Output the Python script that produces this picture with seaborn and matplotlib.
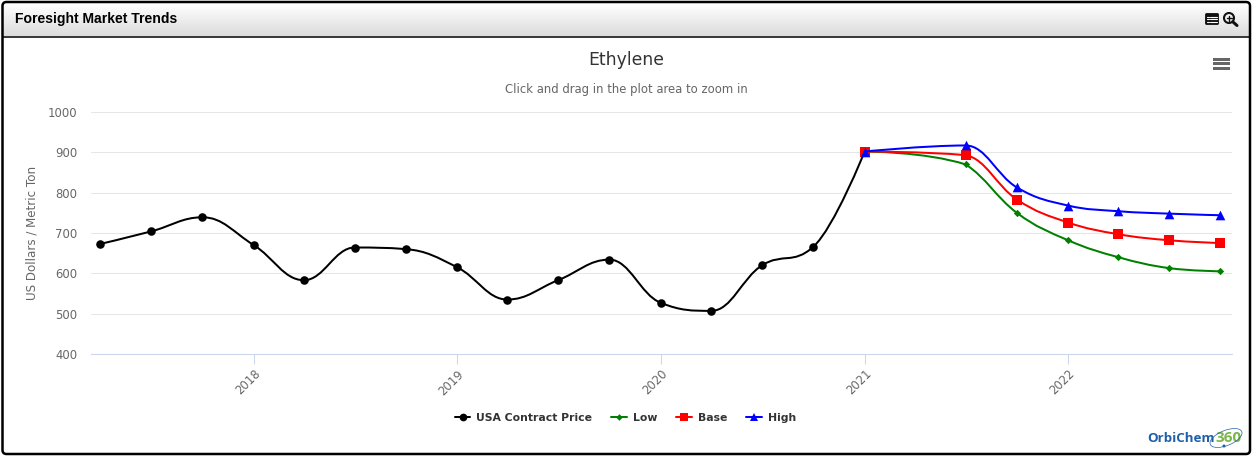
import matplotlib
matplotlib.use("Agg")
import matplotlib.dates as mdates
import matplotlib.pyplot as plt
import numpy as np
import pandas as pd
import seaborn as sns
from matplotlib.lines import Line2D
from matplotlib.patches import Arc, Circle, FancyBboxPatch, PathPatch, Rectangle
from matplotlib.path import Path

history_dates = ["2017-04-01", "2017-07-01", "2017-10-01", "2018-01-01", "2018-04-01", "2018-07-01",
                 "2018-10-01", "2019-01-01", "2019-04-01", "2019-07-01", "2019-10-01", "2020-01-01",
                 "2020-04-01", "2020-07-01", "2020-10-01", "2021-01-01"]
usa_price = [673, 704, 739, 670, 583, 664, 660, 615, 535, 583, 634, 527, 507, 620, 666, 902]

forecast_dates = ["2021-01-01", "2021-07-01", "2021-10-01", "2022-01-01", "2022-04-01", "2022-07-01", "2022-10-01"]
low = [902, 870, 750, 682, 640, 613, 605]
base = [902, 893, 783, 726, 697, 682, 675]
high = [902, 917, 813, 768, 754, 748, 744]

year_ticks = ["2018-01-01", "2019-01-01", "2020-01-01", "2021-01-01", "2022-01-01"]
year_labels = ["2018", "2019", "2020", "2021", "2022"]
y_ticks = [400, 500, 600, 700, 800, 900, 1000]

series_names = ["USA Contract Price", "Low", "Base", "High"]
series_colors = {"USA Contract Price": "black", "Low": "green", "Base": "red", "High": "blue"}
series_markers = {"USA Contract Price": "o", "Low": "D", "Base": "s", "High": "^"}
series_sizes = {"USA Contract Price": 38, "Low": 14, "Base": 46, "High": 48}

WIDTH, HEIGHT = 1254, 458


def to_num(dates):
    return mdates.date2num(pd.to_datetime(dates))


# Same bezier recipe as the web chart's spline, applied to the data points
def spline_path(x, y, smoothing=1.5):
    verts = [(x[0], y[0])]
    codes = [Path.MOVETO]
    left = [None] * len(x)
    right = [None] * len(x)
    for i in range(len(x)):
        if i == 0 or i == len(x) - 1:
            left[i] = (x[i], y[i])
            right[i] = (x[i], y[i])
            continue
        d = smoothing + 1
        lx = (smoothing * x[i] + x[i - 1]) / d
        ly = (smoothing * y[i] + y[i - 1]) / d
        rx = (smoothing * x[i] + x[i + 1]) / d
        ry = (smoothing * y[i] + y[i + 1]) / d
        fix = (ry - ly) * (rx - x[i]) / (rx - lx) + y[i] - ry
        ly += fix
        ry += fix
        if ly > max(y[i - 1], y[i]):
            ly = max(y[i - 1], y[i])
            ry = 2 * y[i] - ly
        elif ly < min(y[i - 1], y[i]):
            ly = min(y[i - 1], y[i])
            ry = 2 * y[i] - ly
        if ry > max(y[i + 1], y[i]):
            ry = max(y[i + 1], y[i])
            ly = 2 * y[i] - ry
        elif ry < min(y[i + 1], y[i]):
            ry = min(y[i + 1], y[i])
            ly = 2 * y[i] - ry
        left[i] = (lx, ly)
        right[i] = (rx, ry)
    for i in range(1, len(x)):
        verts += [right[i - 1], left[i], (x[i], y[i])]
        codes += [Path.CURVE4, Path.CURVE4, Path.CURVE4]
    return Path(verts, codes)


sns.set_theme(style="white")
plt.rcParams["font.family"] = ["DejaVu Sans"]

fig = plt.figure(figsize=(WIDTH / 100, HEIGHT / 100), dpi=100, facecolor="white")

# Panel chrome drawn in pixel coordinates
chrome = fig.add_axes([0, 0, 1, 1], zorder=0)
gradient = np.linspace(1, 0.86, 64).reshape(-1, 1)
chrome.imshow(gradient, cmap="gray", vmin=0, vmax=1, extent=(3, 1249, 36, 3), aspect="auto", zorder=1)
chrome.set_xlim(0, WIDTH)
chrome.set_ylim(HEIGHT, 0)
chrome.axis("off")
chrome.plot([3, 1249], [36.5, 36.5], color="black", lw=1.1, zorder=2)
chrome.add_patch(FancyBboxPatch((2.5, 2), 1247.5, 452, boxstyle="round,pad=0,rounding_size=4",
                                fc="none", ec="black", lw=1.8, zorder=3))
chrome.text(15, 19.5, "Foresight Market Trends", fontsize=10.1, fontweight="bold", color="black",
            family="Liberation Sans", va="center", ha="left")

# Table and zoom icons in the header
chrome.add_patch(FancyBboxPatch((1205.5, 13.5), 13, 11, boxstyle="round,pad=0,rounding_size=1.2", fc="#111111", ec="#111111", lw=0.6, zorder=3))
for yy in [16.5, 19, 21.5]:
    chrome.plot([1210, 1217], [yy, yy], color="white", lw=0.8, zorder=4)
    chrome.plot([1207, 1208.6], [yy, yy], color="white", lw=0.8, zorder=4)
chrome.add_patch(Circle((1229, 18), 5, fc="none", ec="#111111", lw=1.5, zorder=3))
chrome.plot([1232.8, 1237], [21.8, 25.5], color="#111111", lw=2.2, zorder=3)
chrome.plot([1226.5, 1231.5], [18, 18], color="#111111", lw=1, zorder=3)
chrome.plot([1229, 1229], [15.5, 20.5], color="#111111", lw=1, zorder=3)

# Export menu burger
for yy in [59, 63.7, 68.7]:
    chrome.add_patch(Rectangle((1213, yy - 1.5), 16.5, 3, fc="#666666", ec="none", zorder=3))

chrome.text(626, 60, "Ethylene", fontsize=12.4, color="#333333", ha="center", va="center")
chrome.text(626, 90, "Click and drag in the plot area to zoom in", fontsize=8.4, color="#666666", ha="center", va="center")
chrome.text(32.5, 233, "US Dollars / Metric Ton", fontsize=8.6, color="#666666", rotation=90, ha="center", va="center")

# Logo
chrome.text(1147, 438, "OrbiChem", fontsize=9.6, fontweight="bold", color="#1f5fa8", ha="left", va="center", family="Open Sans")
chrome.text(1215, 438, "360", fontsize=11, fontweight="bold", color="#7ab648", ha="left", va="center", family="Open Sans")
chrome.add_patch(Arc((1226, 438), 34, 15, angle=-22, theta1=0, theta2=360, ec="#1f5fa8", lw=0.5, zorder=3))
chrome.add_patch(Circle((1224, 446), 1.5, fc="#1f5fa8", ec="none", zorder=3))

# Plot area
ax = fig.add_axes([91 / WIDTH, 1 - 354 / HEIGHT, (1232 - 91) / WIDTH, 242 / HEIGHT], zorder=1)
ax.patch.set_alpha(0)

frames = [
    pd.DataFrame({"date": to_num(history_dates), "value": usa_price, "series": "USA Contract Price"}),
    pd.DataFrame({"date": to_num(forecast_dates), "value": low, "series": "Low"}),
    pd.DataFrame({"date": to_num(forecast_dates), "value": base, "series": "Base"}),
    pd.DataFrame({"date": to_num(forecast_dates), "value": high, "series": "High"}),
]

for order, (name, frame) in enumerate(zip(series_names, frames)):
    path = spline_path(frame["date"].to_numpy(), frame["value"].to_numpy(dtype=float))
    ax.add_patch(PathPatch(path, fc="none", ec=series_colors[name], lw=1.45, zorder=3 + order * 2, capstyle="round"))
    sns.scatterplot(data=frame, x="date", y="value", color=series_colors[name], marker=series_markers[name],
                    s=series_sizes[name], linewidth=0, zorder=4 + order * 2, legend=False, ax=ax, clip_on=False)

ax.set_xlim(to_num(["2017-03-15"])[0], to_num(["2022-10-22"])[0])
ax.set_ylim(400, 1000)
ax.set_xlabel("")
ax.set_ylabel("")

ax.set_yticks(y_ticks)
ax.set_xticks(to_num(year_ticks))
ax.set_xticklabels(year_labels, rotation=45, ha="right", va="top", rotation_mode="anchor", color="#666666", fontsize=8.4)
ax.tick_params(axis="y", length=0, labelsize=8.4, labelcolor="#666666", pad=10)
ax.tick_params(axis="x", length=7.2, width=0.75, color="#ccd6eb", pad=2.5, bottom=True)
ax.grid(axis="y", color="#e6e6e6", lw=0.75)
ax.set_axisbelow(True)
sns.despine(ax=ax, left=True, top=True, right=True)
ax.spines["bottom"].set_color("#ccd6eb")
ax.spines["bottom"].set_linewidth(0.75)

handles = [Line2D([0], [0], color=series_colors[n], lw=1.45, marker=series_markers[n],
                  markersize=np.sqrt(series_sizes[n]) * 0.9, markeredgewidth=0, label=n) for n in series_names]
fig.legend(handles=handles, ncols=4, loc="center", bbox_to_anchor=(625.5 / WIDTH, 1 - 418 / HEIGHT), frameon=False,
           prop={"size": 7.8, "weight": "bold"}, labelcolor="#333333", handlelength=1.45, handletextpad=0.55, columnspacing=1.75)

fig.savefig("out.png", dpi=100)
